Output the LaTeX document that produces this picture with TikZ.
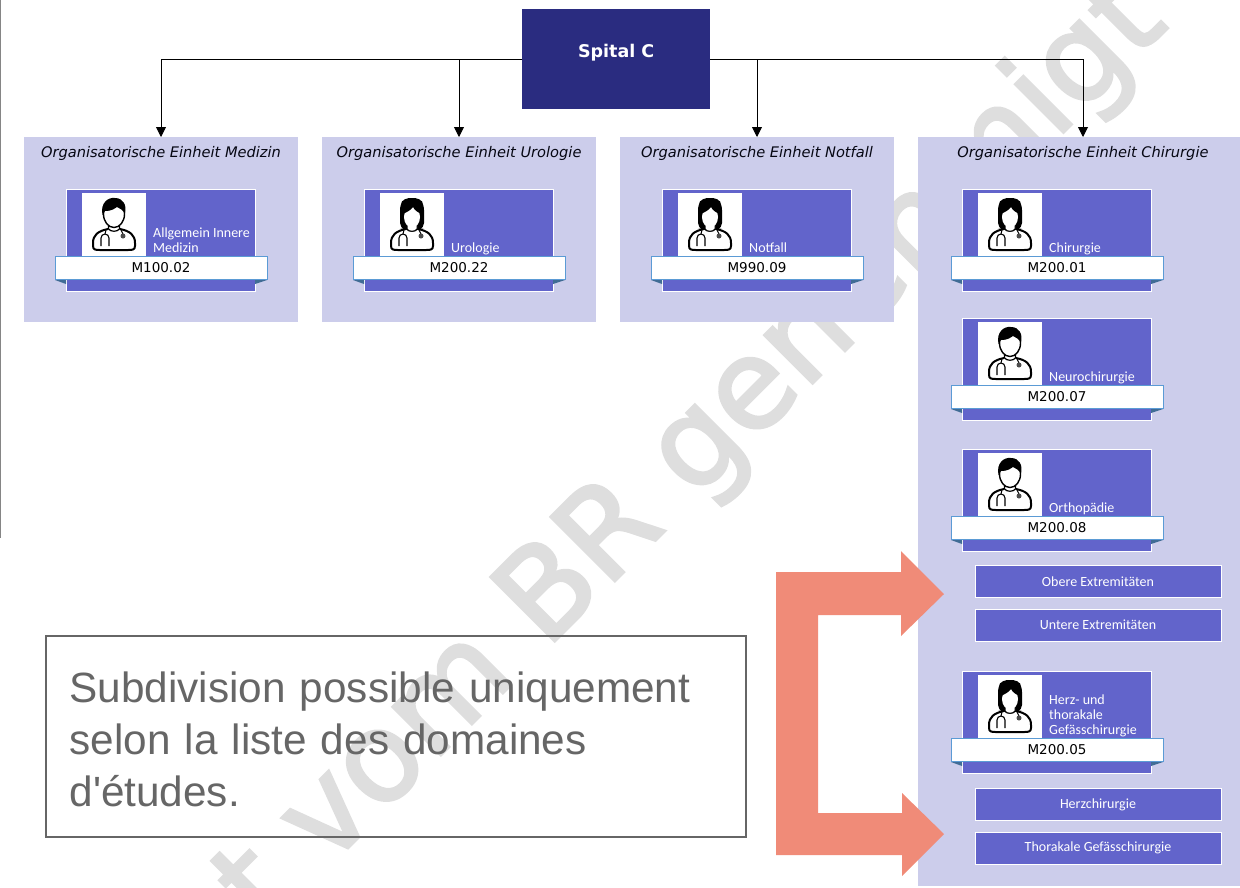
\documentclass[tikz,border=0pt]{standalone}
\usepackage{fontspec}
\usetikzlibrary{positioning,arrows.meta}
\setmainfont{Liberation Sans}
\newfontfamily\cardfont{Carlito}
\newfontfamily\headfont{DejaVu Sans}
\newfontfamily\stampfont[FakeBold=2.5]{DejaVu Sans}
\definecolor{navy}{HTML}{2A2C80}
\definecolor{lilac}{HTML}{CCCDEB}
\definecolor{violet}{HTML}{6264CB}
\definecolor{salmon}{HTML}{F08B78}
\definecolor{ribbonblue}{HTML}{5B9BD5}
\definecolor{notegrey}{HTML}{666666}
\definecolor{stamp}{HTML}{DEDEDE}
\tikzset{
	docbust/.pic = {
		\draw[line width=2pt, fill=white] (-6,4) .. controls (-16,6) and (-21,10) .. (-21,18) -- (-21,21) .. controls (-21,25) and (-18,25) .. (-14,25) -- (14,25) .. controls (18,25) and (21,25) .. (21,21) -- (21,18) .. controls (21,10) and (16,6) .. (6,4);
		\draw[line width=1.1pt] (-13,21) -- (-13,13) arc[start angle=180, end angle=360, radius=4] -- (-5,21);
		\draw[line width=1pt] (-8,5) -- (-9,9);
		\draw[line width=1pt] (7,5) -- (9,9);
		\fill[black!70] (9,11) circle (2.5);
		\draw[line width=1.2pt, fill=white] (-5.5,-4) -- (-5.5,4) .. controls (-3,7) and (3,7) .. (5.5,4) -- (5.5,-4);
	},
	malehead/.pic = {
		\pic {docbust};
		\draw[line width=1.4pt, fill=white] (0,-11) ellipse (10.5 and 13.5);
		\fill[black] (-11.5,-10) .. controls (-14,-22) and (-6,-28) .. (1,-27) .. controls (9,-27) and (13,-20) .. (11,-12) .. controls (8,-15) and (6,-17) .. (3,-18) .. controls (-2,-14) and (-7,-14) .. (-9,-14) -- cycle;
	},
	femalehead/.pic = {
		\pic {docbust};
		\fill[black, rounded corners=5pt] (-12,3) -- (-12,-20) -- (-8,-27) -- (8,-27) -- (12,-20) -- (12,3) -- (7,5) -- (-7,5) -- cycle;
		\draw[line width=1pt, fill=white] (-5,-1) -- (-5,4) .. controls (-3,7) and (3,7) .. (5,4) -- (5,-1);
		\fill[white] (0,-8) ellipse (8 and 10.5);
		\fill[black] (-9,-11) .. controls (-5,-13) and (-1,-15) .. (1,-18) .. controls (3,-14) and (6,-13) .. (9,-11) -- (9,-22) -- (-9,-22) -- cycle;
	}
}
\newcommand{\doccard}[7]{
	\node [card, below right=#3 and #4 of #2.north west] (#1) {};
	\node [photo, below right=4pt and 16pt of #1.north west] (#1photo) {};
	\fill[ribbonblue!70!black] (#1.west |- #1photo.south) ++(-11,23) -- ++(11,0) -- ++(0,4) -- cycle;
	\fill[ribbonblue!70!black] (#1.east |- #1photo.south) ++(12,23) -- ++(-12,0) -- ++(0,4) -- cycle;
	\node [band, below=-0.2pt of #1photo.south -| #1.south, xshift=0.5pt] (#1band) {\raisebox{1.5pt}{#6}};
	\pic at (#1photo) {#5head};
	\node [cardtext, above right=-1.5pt and 5.5pt of #1photo.south east] (#1label) {#7\strut};
}
\begin{document}
\begin{tikzpicture}[
		x=1pt, y=-1pt,
		panel/.style = {
			fill=lilac, anchor=north west,
			minimum height=185pt, minimum width=274pt,
			inner sep=0pt, outer sep=0pt
			},
		paneltitle/.style = {
			font=\headfont\itshape\fontsize{14.6}{16}\selectfont,
			text=black!85!navy, inner sep=0pt
			},
		card/.style = {
			fill=violet, draw=white, line width=0.8pt,
			minimum width=189pt, minimum height=102pt,
			inner sep=0pt, outer sep=0pt
			},
		photo/.style = {
			fill=white, minimum width=64pt, minimum height=64pt,
			inner sep=0pt, outer sep=0pt
			},
		band/.style = {
			fill=white, draw=ribbonblue, line width=0.8pt,
			minimum width=212pt, minimum height=23pt,
			inner sep=0pt, outer sep=0pt,
			font=\headfont\fontsize{13.5}{15}\selectfont
			},
		cardtext/.style = {
			text=white, align=left, inner sep=1.5pt,
			font=\cardfont\fontsize{14}{15}\selectfont
			},
		subbox/.style = {
			fill=violet, draw=white, line width=0.8pt, text=white,
			minimum width=246pt, minimum height=32pt,
			inner sep=0pt, outer sep=0pt, anchor=north west,
			font=\cardfont\fontsize{14}{15}\selectfont
			},
		link/.style = {
			draw=black, line width=0.9pt, -{Triangle[width=10pt,length=10pt]}
			}
		]
		\clip (0,0) rectangle (1240,887);
		\node [rotate=45, anchor=base, text=stamp, inner sep=0pt, font=\stampfont\fontsize{124}{124}\selectfont] (mark) at (717.4,478.3) {t vom BR genehmigt};
		\draw[notegrey!80, line width=1pt] (0.5,0) coordinate (edgetop) -- (0.5,538) coordinate (edgeend);

		\node [fill=navy, text=white, anchor=north west, minimum width=188pt, minimum height=100pt, font=\headfont\bfseries\fontsize{17.5}{20}\selectfont, inner sep=0pt] (spital) at (522,9) {\raisebox{17pt}{Spital C}};

		\node [panel] (medizin) at (24,137) {};
		\node [panel] (urologie) at (322,137) {};
		\node [panel] (notfall) at (620,137) {};
		\node [panel, minimum width=330pt, minimum height=749pt] (chirurgie) at (918,137) {};

		\draw[link] (spital.west) -| (medizin.north);
		\draw[link] (spital.west) -| (urologie.north);
		\draw[link] (spital.east) -| (notfall.north);
		\draw[link] (spital.east) -| (chirurgie.north);

		\node [paneltitle, below=9.5pt of medizin.north] (medizintitle) {Organisatorische Einheit Medizin};
		\node [paneltitle, below=9.5pt of urologie.north] (urologietitle) {Organisatorische Einheit Urologie};
		\node [paneltitle, below=9.5pt of notfall.north] (notfalltitle) {Organisatorische Einheit Notfall};
		\node [paneltitle, below=9.5pt of chirurgie.north] (chirurgietitle) {Organisatorische Einheit Chirurgie};

		\doccard{inner}{medizin}{52pt}{42pt}{male}{M100.02}{Allgemein Innere\\Medizin}
		\doccard{uro}{urologie}{52pt}{42pt}{female}{M200.22}{Urologie}
		\doccard{not}{notfall}{52pt}{42pt}{female}{M990.09}{Notfall}
		\doccard{chi}{chirurgie}{52pt}{44pt}{female}{M200.01}{Chirurgie}
		\doccard{neu}{chirurgie}{181pt}{44pt}{male}{M200.07}{Neurochirurgie}
		\doccard{ort}{chirurgie}{312pt}{44pt}{male}{M200.08}{Orthopädie}
		\doccard{her}{chirurgie}{534pt}{44pt}{female}{M200.05}{Herz- und\\thorakale\\Gefässchirurgie}

		\node [subbox] (obere) at (975,565.5) {Obere Extremitäten};
		\node [subbox, below=11.5pt of obere] (untere) {Untere Extremitäten};
		\node [subbox] (herz) at (975,788.5) {Herzchirurgie};
		\node [subbox, below=11.5pt of herz] (thorakal) {Thorakale Gefässchirurgie};

		\fill[salmon] (776,572) -- (901,572) -- (901,551) -- (944,594) -- (901,636) -- (901,615) -- (818,615) -- (818,813) -- (902,813) -- (902,793) -- (944,834) -- (902,876) -- (902,855) -- (776,855) -- cycle;

		\node [draw=notegrey, line width=2pt, anchor=north west, minimum width=700pt, minimum height=201pt, inner sep=0pt] (note) at (45,635) {};
		\node [text=notegrey, align=left, inner sep=0pt, font=\fontsize{42.3}{52}\selectfont, text width=653pt, yshift=-3pt] (notetext) at (note.center) {Subdivision possible uniquement\\selon la liste des domaines\\d\textquotesingle études.};
	\end{tikzpicture}
\end{document}
